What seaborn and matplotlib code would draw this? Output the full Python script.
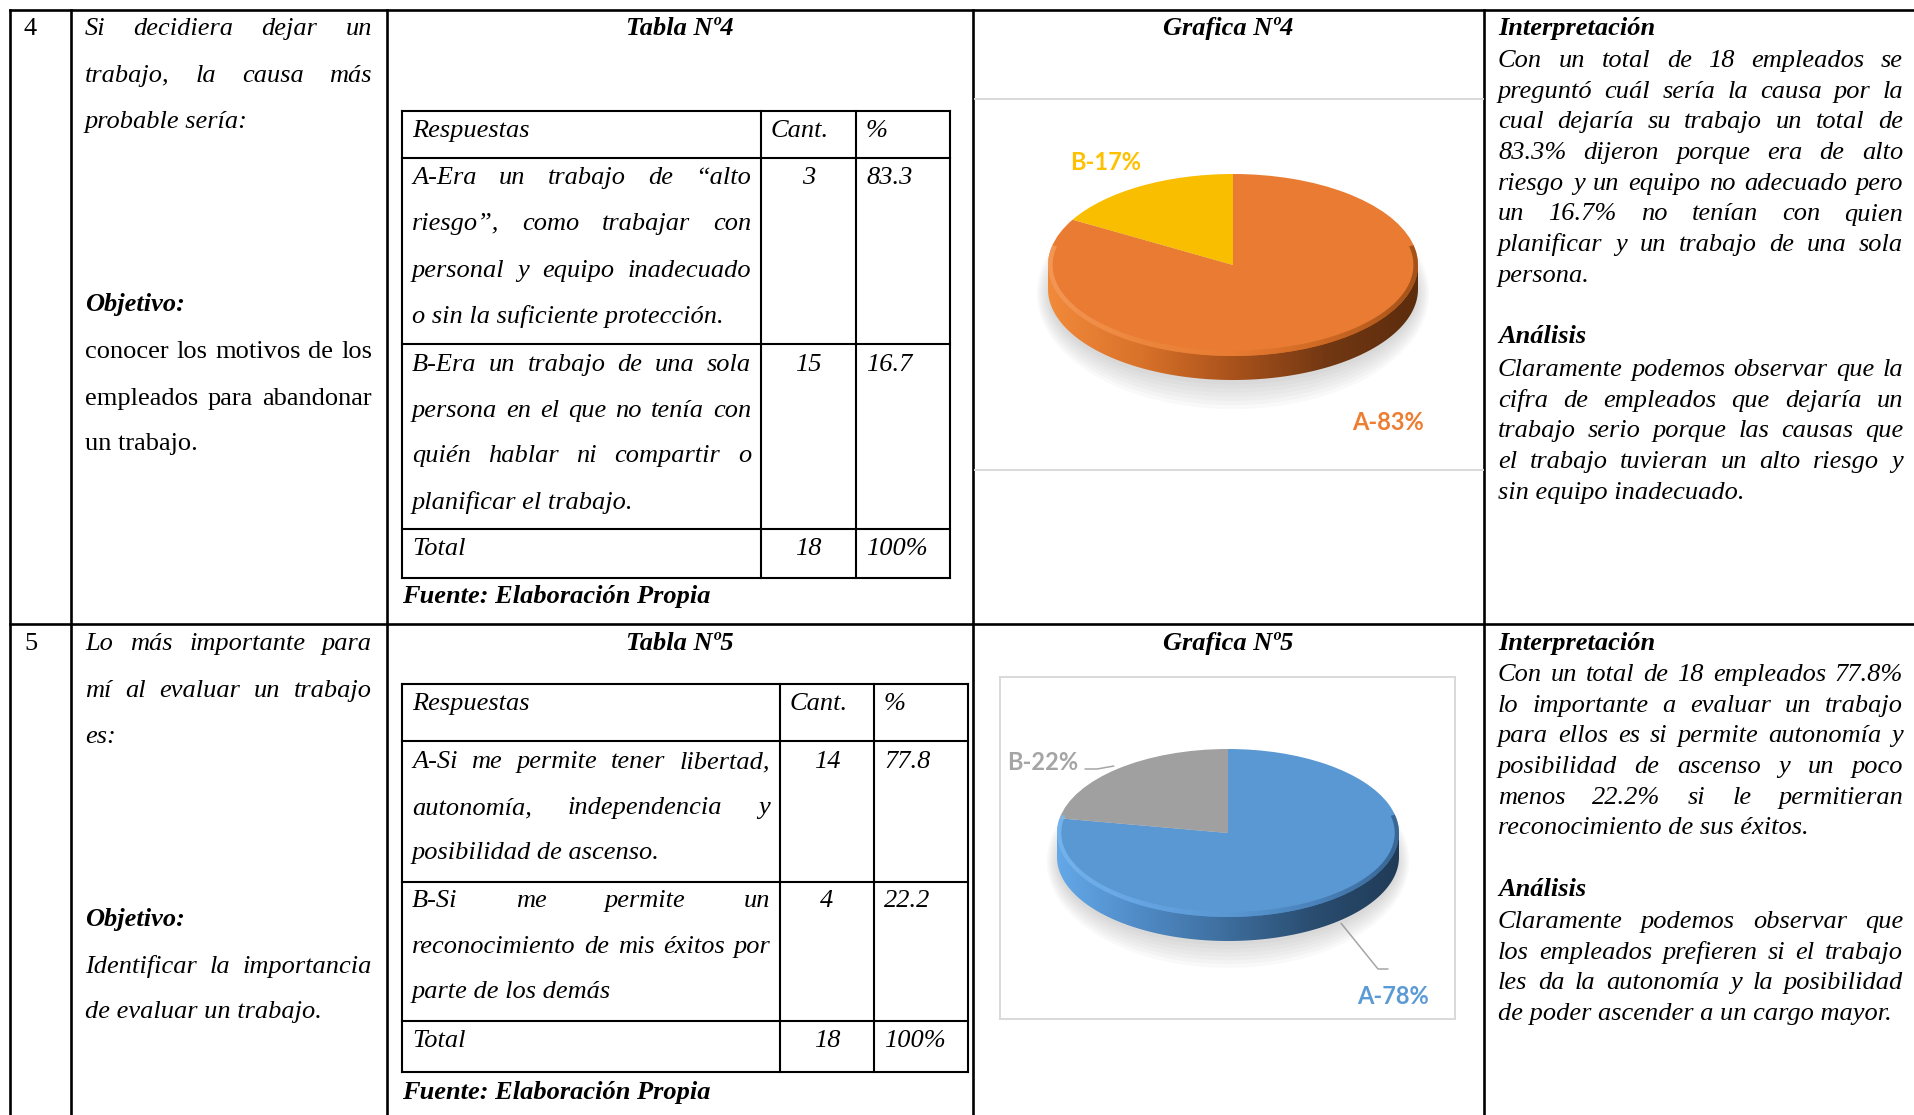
import numpy as np
import matplotlib
matplotlib.use("Agg")
import matplotlib.pyplot as plt
import seaborn as sns
from matplotlib.patches import Polygon, Ellipse

# ---------------- data ----------------
categorias = ["A", "B"]
cant4 = [3, 15]
pct4 = [83.3, 16.7]
cant5 = [14, 4]
pct5 = [77.8, 22.2]
total_cant = 18
total_pct = "100%"

colores4 = ["#E97C32", "#F9BE00"]
colores5 = ["#5A98D4", "#A0A0A0"]
label_col4 = ["#ED7D31", "#FFC000"]
label_col5 = ["#5B9BD5", "#A5A5A5"]

pregunta4 = ["Si decidiera dejar un", "trabajo, la causa más", "probable sería:"]
objetivo4 = ["conocer los motivos de los", "empleados para abandonar", "un trabajo."]
pregunta5 = ["Lo más importante para", "mí al evaluar un trabajo", "es:"]
objetivo5 = ["Identificar la importancia", "de evaluar un trabajo."]

resp4_A = ["A-Era un trabajo de “alto", "riesgo”, como trabajar con",
           "personal y equipo inadecuado", "o sin la suficiente protección."]
resp4_B = ["B-Era un trabajo de una sola", "persona en el que no tenía con",
           "quién hablar ni compartir o", "planificar el trabajo."]
resp5_A = ["A-Si me permite tener libertad,", "autonomía, independencia y",
           "posibilidad de ascenso."]
resp5_B = ["B-Si me permite un", "reconocimiento de mis éxitos por",
           "parte de los demás"]

interp4 = ["Con un total de 18 empleados se", "preguntó cuál sería la causa por la",
           "cual dejaría su trabajo un total de", "83.3% dijeron porque era de alto",
           "riesgo y un equipo no adecuado pero", "un 16.7% no tenían con quien",
           "planificar y un trabajo de una sola", "persona."]
anal4 = ["Claramente podemos observar que la", "cifra de empleados que dejaría un",
         "trabajo serio porque las causas que", "el trabajo tuvieran un alto riesgo y",
         "sin equipo inadecuado."]
interp5 = ["Con un total de 18 empleados 77.8%", "lo importante a evaluar un trabajo",
           "para ellos es si permite autonomía y", "posibilidad de ascenso y un poco",
           "menos 22.2% si le permitieran", "reconocimiento de sus éxitos."]
anal5 = ["Claramente podemos observar que", "los empleados prefieren si el trabajo",
         "les da la autonomía y la posibilidad", "de poder ascender a un cargo mayor."]

# ---------------- figure ----------------
sns.set_theme(style="white")
plt.rcParams["font.family"] = ["Liberation Serif", "DejaVu Serif"]

W, H = 1915, 1115
fig = plt.figure(figsize=(W / 100, H / 100), dpi=100)
fig.patch.set_facecolor("white")
ax = fig.add_axes([0, 0, 1, 1])
ax.set_xlim(0, W)
ax.set_ylim(H, 0)
ax.axis("off")
R = fig.canvas.get_renderer()

FS = 19
BASE = 8
IT = dict(family="Liberation Serif", style="italic", size=FS, color="black")
RG = dict(family="Liberation Serif", size=FS, color="black")
BI = dict(family="Liberation Serif", style="italic", weight="bold", size=FS, color="black")


def put(s, x, yc, props, ha="left"):
    return ax.text(x, yc + BASE, s, ha=ha, va="baseline", **props)


def put_just(s, x0, x1, yc, props, justify=True):
    words = s.split()
    if not justify or len(words) < 2:
        return put(s, x0, yc, props)
    arts = [ax.text(0, yc + BASE, w, ha="left", va="baseline", **props) for w in words]
    ws = [a.get_window_extent(renderer=R).width for a in arts]
    gap = (x1 - x0 - sum(ws)) / (len(words) - 1)
    x = x0
    for a, w in zip(arts, ws):
        a.set_x(x)
        x += w + gap


def para(lines, x0, x1, ys, props):
    for i, (s, y) in enumerate(zip(lines, ys)):
        put_just(s, x0, x1, y, props, justify=(i < len(lines) - 1))


def hline(y, x0, x1, lw, color="black"):
    ax.plot([x0, x1], [y, y], color=color, lw=lw, solid_capstyle="projecting")


def vline(x, y0, y1, lw, color="black"):
    ax.plot([x, x], [y0, y1], color=color, lw=lw, solid_capstyle="projecting")


# outer grid
OLW = 1.9
for x in [10, 71, 387, 973, 1484]:
    vline(x, 10, H + 5, OLW)
hline(10, 10, W + 5, OLW)
hline(624, 10, W + 5, OLW)

# column 1 / 2 texts
put("4", 24, 27, RG)
put("5", 24, 642, RG)
C2 = (85, 372)
para(pregunta4, C2[0], C2[1], [27, 74, 120], IT)
put("Objetivo:", C2[0], 303, BI)
para(objetivo4, C2[0], C2[1], [350, 397, 442], RG)
para(pregunta5, C2[0], C2[1], [642, 689, 735], IT)
put("Objetivo:", C2[0], 918, BI)
para(objetivo5, C2[0], C2[1], [965, 1010], IT)


# tables
def table(title, title_y, xs, ys, rowsA, rowsB, cant, pct, yA, yB, y_head, y_tot, y_fuente):
    put(title, (387 + 973) / 2, title_y, BI, ha="center")
    TLW = 1.5
    for x in xs:
        vline(x, ys[0], ys[-1], TLW)
    for y in ys:
        hline(y, xs[0], xs[-1], TLW)
    tx0, tx1 = xs[0] + 10, xs[1] - 10
    cx = (xs[1] + xs[2]) / 2
    px = xs[2] + 10
    put("Respuestas", tx0, y_head, IT)
    put("Cant.", xs[1] + 10, y_head, IT)
    put("%", px, y_head, IT)
    para(rowsA, tx0, tx1, yA, IT)
    para(rowsB, tx0, tx1, yB, IT)
    put(str(cant[0]), cx, yA[0], IT, ha="center")
    put(f"{pct[0]:.1f}", px, yA[0], IT)
    put(str(cant[1]), cx, yB[0], IT, ha="center")
    put(f"{pct[1]:.1f}", px, yB[0], IT)
    put("Total", tx0, y_tot, IT)
    put(str(total_cant), cx, y_tot, IT, ha="center")
    put(total_pct, px, y_tot, IT)
    put("Fuente: Elaboración Propia", xs[0], y_fuente, BI)


table("Tabla Nº4", 27, [402, 761, 856, 950], [111, 158, 344, 529, 578],
      resp4_A, resp4_B, cant4, pct4, [176, 222, 269, 315], [363, 409, 454, 501], 129, 547, 595)
table("Tabla Nº5", 642, [402, 780, 874, 968], [684, 741, 882, 1021, 1072],
      resp5_A, resp5_B, cant5, pct5, [760, 806, 851], [899, 945, 990], 702, 1039, 1091)

# interpretation column
C4 = (1498, 1903)
put("Interpretación", C4[0], 27, BI)
para(interp4, C4[0], C4[1], [59 + 30.7 * i for i in range(len(interp4))], IT)
put("Análisis", C4[0], 335, BI)
para(anal4, C4[0], C4[1], [368 + 30.7 * i for i in range(len(anal4))], IT)
put("Interpretación", C4[0], 642, BI)
para(interp5, C4[0], C4[1], [673 + 30.7 * i for i in range(len(interp5))], IT)
put("Análisis", C4[0], 888, BI)
para(anal5, C4[0], C4[1], [920 + 30.7 * i for i in range(len(anal5))], IT)

# chart titles and boxes
put("Grafica Nº4", (973 + 1484) / 2, 27, BI, ha="center")
put("Grafica Nº5", (973 + 1484) / 2, 642, BI, ha="center")
GB = "#D9D9D9"
hline(99, 975, 1483, 1.4, GB)
hline(470, 975, 1483, 1.4, GB)
for y in (677, 1019):
    hline(y, 1000, 1455, 1.4, GB)
for x in (1000, 1455):
    vline(x, 677, 1019, 1.4, GB)


# 3D-looking pies
def pie3d(values, colors, side_stops, rim_stops, cx, cy, rx, ry, t, box):
    bx0, by0, bx1, by1 = box
    pax = fig.add_axes([bx0 / W, 1 - by1 / H, (bx1 - bx0) / W, (by1 - by0) / H])
    pax.patch.set_alpha(0)
    dt = t / ry
    # soft shadow
    for k in range(7):
        pax.add_patch(Ellipse((0.0, -dt - 0.05), 2 * (1.0 + 0.01 * k), 2 * (1.0 + 0.045 * k),
                              facecolor="#8f8f8f", alpha=0.05, lw=0, zorder=1))
    # side wall
    th = np.linspace(np.pi, 2 * np.pi, 300)
    poly = np.vstack([[-1, 0], np.column_stack([np.cos(th), np.sin(th) - dt]), [1, 0]])
    clip = Polygon(poly, closed=True, facecolor="none", edgecolor="none")
    pax.add_patch(clip)
    cmap = sns.blend_palette(side_stops, as_cmap=True)
    grad = np.linspace(0, 1, 256)[None, :]
    im = pax.imshow(grad, cmap=cmap, extent=(-1, 1, -1 - dt, 0.0), aspect="auto",
                    zorder=2, interpolation="bilinear")
    im.set_clip_path(clip)
    # top face
    pax.pie(values, colors=colors, startangle=90, counterclock=False,
            wedgeprops=dict(linewidth=0, zorder=3))
    # bevel rim on the front of the top face
    th2 = np.linspace(np.pi * 0.93, 2 * np.pi + np.pi * 0.07, 300)
    outer = np.column_stack([np.cos(th2), np.sin(th2)])
    inner = np.column_stack([0.975 * np.cos(th2[::-1]), 0.94 * np.sin(th2[::-1])])
    ring = Polygon(np.vstack([outer, inner]), closed=True, facecolor="none", edgecolor="none")
    pax.add_patch(ring)
    rmap = sns.blend_palette(rim_stops, as_cmap=True)
    im2 = pax.imshow(grad, cmap=rmap, extent=(-1, 1, -1, 0.3), aspect="auto",
                     zorder=4, interpolation="bilinear", alpha=0.75)
    im2.set_clip_path(ring)
    pax.set_aspect("auto")
    pax.set_xlim((bx0 - cx) / rx, (bx1 - cx) / rx)
    pax.set_ylim((cy - by1) / ry, (cy - by0) / ry)
    pax.axis("off")


def mid_angles(values):
    fr = np.array(values) / np.sum(values)
    cum = np.concatenate([[0], np.cumsum(fr)])
    return np.deg2rad(90 - 360 * (cum[:-1] + cum[1:]) / 2)


P4 = dict(cx=1233, cy=265, rx=185, ry=91, t=24)
P5 = dict(cx=1228, cy=833, rx=171, ry=84, t=24)

pie3d(pct4, colores4, ["#F28A3B", "#D9722A", "#A9521B", "#733813", "#5C2C0D"],
      ["#F8A060", "#EE8A42", "#E97C32", "#C4621F", "#8E4512"],
      box=(975, 101, 1483, 468), **P4)
pie3d(pct5, colores5, ["#64A8E8", "#4F8AC5", "#3D6D9C", "#2A4D70", "#203B57"],
      ["#7DBDF4", "#69A9E6", "#5A98D4", "#467CB2", "#2E567F"],
      box=(1001, 678, 1454, 1018), **P5)

LB = dict(family="Lato", weight="bold", size=17)
lab4 = [f"{c}-{round(p)}%" for c, p in zip(categorias, pct4)]
lab5 = [f"{c}-{round(p)}%" for c, p in zip(categorias, pct5)]
ax.text(1106, 163, lab4[1], color=label_col4[1], ha="center", va="center", **LB)
ax.text(1388, 422, lab4[0], color=label_col4[0], ha="center", va="center", **LB)
ax.text(1043, 762, lab5[1], color=label_col5[1], ha="center", va="center", **LB)
ax.text(1393, 997, lab5[0], color=label_col5[0], ha="center", va="center", **LB)

# leader lines for pie 5 (anchored at slice mid-angles)
mA, mB = mid_angles(pct5)
LC = "#A6A6A6"
bx = P5["cx"] + P5["rx"] * np.cos(mB) * 1.04
by = P5["cy"] - P5["ry"] * np.sin(mB) * 1.04
ax.plot([bx, 1097, 1085], [by, 769, 769], color=LC, lw=1.1)
axx = P5["cx"] + P5["rx"] * np.cos(mA) * 1.03
ayy = P5["cy"] - P5["ry"] * np.sin(mA) * 1.03 + P5["t"]
ax.plot([axx, 1378, 1388], [ayy, 969, 969], color=LC, lw=1.1)

fig.savefig("out.png", dpi=100, facecolor="white")
